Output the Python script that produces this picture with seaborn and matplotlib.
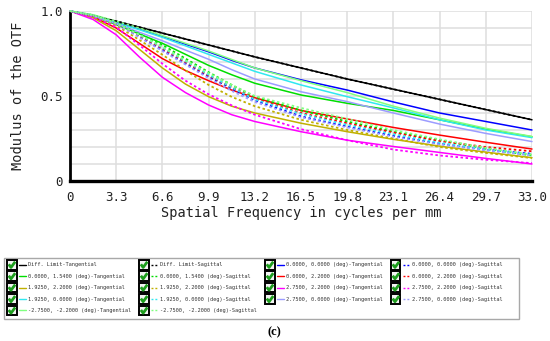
import matplotlib
matplotlib.use("Agg")
import matplotlib.pyplot as plt
import seaborn as sns
import numpy as np
import pandas as pd
from matplotlib.lines import Line2D
from matplotlib.patches import Rectangle
from matplotlib.legend_handler import HandlerBase

# ---------------- data ----------------
freq = [0, 1.65, 3.3, 4.95, 6.6, 8.25, 9.9, 11.55, 13.2, 16.5, 19.8, 23.1, 26.4, 29.7, 33.0]

diff_t = [1.0, 0.97, 0.94, 0.905, 0.87, 0.835, 0.80, 0.765, 0.73, 0.665, 0.60, 0.54, 0.48, 0.42, 0.36]
diff_s = [1.0, 0.97, 0.94, 0.905, 0.87, 0.835, 0.80, 0.765, 0.73, 0.665, 0.60, 0.54, 0.48, 0.42, 0.36]

t_0_0 = [1.0, 0.975, 0.935, 0.895, 0.85, 0.805, 0.76, 0.71, 0.665, 0.595, 0.535, 0.465, 0.40, 0.35, 0.30]
s_0_0 = [1.0, 0.972, 0.925, 0.85, 0.77, 0.69, 0.614, 0.545, 0.475, 0.38, 0.32, 0.265, 0.22, 0.185, 0.16]

t_0_154 = [1.0, 0.97, 0.92, 0.865, 0.81, 0.745, 0.68, 0.625, 0.575, 0.506, 0.457, 0.415, 0.36, 0.305, 0.26]
s_0_154 = [1.0, 0.975, 0.93, 0.865, 0.80, 0.72, 0.64, 0.565, 0.495, 0.415, 0.35, 0.29, 0.24, 0.19, 0.15]

t_0_22 = [1.0, 0.965, 0.90, 0.81, 0.72, 0.65, 0.59, 0.535, 0.49, 0.415, 0.365, 0.315, 0.27, 0.228, 0.188]
s_0_22 = [1.0, 0.973, 0.927, 0.855, 0.78, 0.70, 0.62, 0.55, 0.485, 0.40, 0.34, 0.285, 0.235, 0.20, 0.175]

t_1925_22 = [1.0, 0.96, 0.884, 0.775, 0.665, 0.57, 0.496, 0.44, 0.40, 0.34, 0.29, 0.245, 0.205, 0.17, 0.137]
s_1925_22 = [1.0, 0.968, 0.915, 0.83, 0.743, 0.65, 0.565, 0.495, 0.44, 0.36, 0.30, 0.25, 0.20, 0.165, 0.135]

t_275_22 = [1.0, 0.95, 0.86, 0.73, 0.61, 0.52, 0.447, 0.39, 0.35, 0.29, 0.24, 0.203, 0.168, 0.133, 0.10]
s_275_22 = [1.0, 0.965, 0.905, 0.80, 0.69, 0.59, 0.51, 0.445, 0.39, 0.305, 0.24, 0.185, 0.15, 0.125, 0.105]

t_1925_0 = [1.0, 0.975, 0.93, 0.89, 0.845, 0.795, 0.745, 0.695, 0.645, 0.565, 0.496, 0.43, 0.36, 0.30, 0.255]
s_1925_0 = [1.0, 0.974, 0.928, 0.86, 0.785, 0.705, 0.625, 0.55, 0.48, 0.395, 0.33, 0.275, 0.225, 0.185, 0.155]

t_275_0 = [1.0, 0.972, 0.925, 0.875, 0.825, 0.77, 0.716, 0.655, 0.60, 0.525, 0.467, 0.40, 0.335, 0.28, 0.232]
s_275_0 = [1.0, 0.972, 0.924, 0.845, 0.765, 0.685, 0.605, 0.53, 0.465, 0.375, 0.315, 0.26, 0.215, 0.18, 0.15]

t_m275_m22 = [1.0, 0.978, 0.94, 0.90, 0.855, 0.81, 0.765, 0.715, 0.665, 0.59, 0.52, 0.44, 0.37, 0.31, 0.262]
s_m275_m22 = [1.0, 0.975, 0.93, 0.86, 0.79, 0.71, 0.635, 0.565, 0.50, 0.43, 0.365, 0.30, 0.245, 0.195, 0.155]

fields = ["Diff. Limit", "0.0000, 0.0000 (deg)", "0.0000, 1.5400 (deg)", "0.0000, 2.2000 (deg)",
          "1.9250, 2.2000 (deg)", "2.7500, 2.2000 (deg)", "1.9250, 0.0000 (deg)",
          "2.7500, 0.0000 (deg)", "-2.7500, -2.2000 (deg)"]
tang = [diff_t, t_0_0, t_0_154, t_0_22, t_1925_22, t_275_22, t_1925_0, t_275_0, t_m275_m22]
sag = [diff_s, s_0_0, s_0_154, s_0_22, s_1925_22, s_275_22, s_1925_0, s_275_0, s_m275_m22]
colors = ["#000000", "#0000ff", "#00dd00", "#ff0000", "#c0b000", "#ff00ff", "#30e8f0", "#9c9cff", "#80ff80"]

xticks = [0, 3.3, 6.6, 9.9, 13.2, 16.5, 19.8, 23.1, 26.4, 29.7, 33.0]
xticklabels = ["0", "3.3", "6.6", "9.9", "13.2", "16.5", "19.8", "23.1", "26.4", "29.7", "33.0"]
yticks = [0, 0.5, 1.0]
yticklabels = ["0", "0.5", "1.0"]

# ---------------- style ----------------
sns.set_theme(style="white")
plt.rcParams['font.family'] = ['DejaVu Sans Mono']

W, H = 550, 341
fig = plt.figure(figsize=(W / 100, H / 100), dpi=100)
fig.patch.set_facecolor("white")
ax = fig.add_axes([70 / W, 1 - 181 / H, 462 / W, 170 / H])
ax.set_facecolor("white")

DOT = (0, (1.4, 1.4))
handles_t, handles_s = [], []
for name, tv, sv, c in zip(fields, tang, sag, colors):
    sns.lineplot(x=freq, y=tv, color=c, linewidth=1.1, ax=ax, clip_on=False, zorder=3)
    handles_t.append(ax.lines[-1])
    sns.lineplot(x=freq, y=sv, color=c, linewidth=1.3, linestyle=DOT, ax=ax, clip_on=False, zorder=4)
    handles_s.append(ax.lines[-1])

ax.set_xlim(0, 33)
ax.set_ylim(0, 1)
ax.set_xticks(xticks)
ax.set_xticklabels(xticklabels)
ax.set_yticks(yticks)
ax.set_yticklabels(yticklabels)
ax.set_yticks(np.arange(0, 1.01, 0.1), minor=True)
ax.tick_params(axis="both", which="both", length=0, labelsize=9, colors="#222222")
ax.tick_params(axis="x", pad=7)
ax.tick_params(axis="y", pad=5)
ax.grid(True, which="major", axis="x", color="#dedede", linewidth=1.1)
ax.grid(True, which="both", axis="y", color="#dedede", linewidth=1.1)
ax.set_axisbelow(True)
for s in ["top", "right"]:
    ax.spines[s].set_visible(False)
ax.spines["left"].set_color("black")
ax.spines["left"].set_linewidth(2.0)
ax.spines["bottom"].set_color("black")
ax.spines["bottom"].set_linewidth(2.4)
ax.set_xlabel("Spatial Frequency in cycles per mm", fontsize=9.8, color="#222222", labelpad=2)
ax.set_ylabel("Modulus of the OTF", fontsize=9.8, color="#222222", labelpad=11)


# ---------------- legend with check boxes ----------------
class CheckHandler(HandlerBase):
    def create_artists(self, legend, orig_handle, xdescent, ydescent, width, height, fontsize, trans):
        x0, y0 = -xdescent, -ydescent
        s = height
        box = Rectangle((x0, y0), s, s, facecolor="#f4f4f4", edgecolor="black", lw=1.4, transform=trans)
        chk = Line2D([x0 + 0.18 * s, x0 + 0.42 * s, x0 + 0.86 * s],
                     [y0 + 0.55 * s, y0 + 0.22 * s, y0 + 0.82 * s],
                     color="#1e9e1e", lw=2.0, solid_capstyle="butt", transform=trans)
        ln = Line2D([0, 1], [0, 1])
        ln.update_from(orig_handle)
        ln.set_data([x0 + s * 1.25, x0 + width], [y0 + s / 2, y0 + s / 2])
        ln.set_linewidth(1.0)
        ln.set_transform(trans)
        return [box, chk, ln]


row_pairs = [(0, 1), (2, 3), (4, 5), (6, 7), (8,)]
col1, col2, col3, col4 = [], [], [], []
for rp in row_pairs:
    a = rp[0]
    col1.append((handles_t[a], fields[a] + "-Tangential"))
    col2.append((handles_s[a], fields[a] + "-Sagittal"))
    if len(rp) > 1:
        b = rp[1]
        col3.append((handles_t[b], fields[b] + "-Tangential"))
        col4.append((handles_s[b], fields[b] + "-Sagittal"))
entries = col1 + col2 + col3 + col4
leg = fig.legend([e[0] for e in entries], [e[1] for e in entries],
                 handler_map={Line2D: CheckHandler()},
                 loc="upper left", bbox_to_anchor=(7 / W, 1 - 260 / H),
                 ncol=4, frameon=False, fontsize=3.8, borderpad=0, borderaxespad=0,
                 handlelength=3.6, handleheight=2.4, handletextpad=0.3,
                 labelspacing=0.36, columnspacing=1.6)
for t in leg.get_texts():
    t.set_color("#333333")

fig.patches.append(Rectangle((4 / W, 1 - 319 / H), 515 / W, 61 / H, transform=fig.transFigure,
                             fill=False, edgecolor="#a8a8a8", lw=1.0))

fig.text(274 / W, 1 - 332 / H, "(c)", fontsize=9, fontweight="bold",
         family=["Liberation Serif", "DejaVu Serif"], ha="center", va="center", color="black")

fig.savefig("out.png", dpi=100, facecolor="white")
